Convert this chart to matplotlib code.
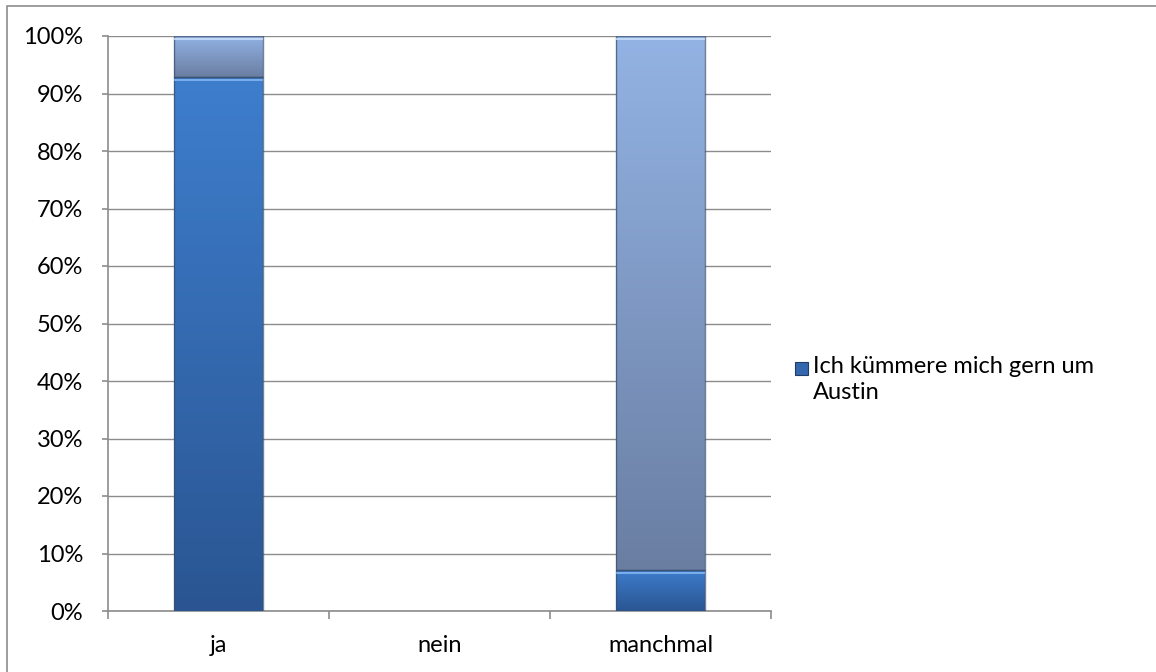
import numpy as np
import matplotlib
matplotlib.use('Agg')
import matplotlib.pyplot as plt
from matplotlib.colors import LinearSegmentedColormap
from matplotlib.patches import Rectangle

# data (share of answers per category)
categories = ['ja', 'nein', 'manchmal']
series_main = [92.86, 0.0, 7.14]
series_rest = [7.14, 0.0, 92.86]
legend_label = 'Ich kümmere mich gern um\nAustin'

plt.rcParams['font.family'] = ['Lato', 'DejaVu Sans']
FS = 17

fig = plt.figure(figsize=(11.56, 6.72), dpi=100)
ax = fig.add_axes([108 / 1156, 1 - 611 / 672, (771 - 108) / 1156, (611 - 36) / 672])

x = np.arange(len(categories))
width = 0.4

# gradient colours for each series (bottom -> top)
cmap_main = LinearSegmentedColormap.from_list('main', ['#2a5592', '#3e7ecd'])
cmap_rest = LinearSegmentedColormap.from_list('rest', ['#6a7ea2', '#93b3e4'])

bars_main = ax.bar(x, series_main, width, color='#3a70b8', edgecolor='none', zorder=3,
                   label=legend_label)
bars_rest = ax.bar(x, series_rest, width, bottom=series_main, color='#8aa6d4',
                   edgecolor='none', zorder=3)

grad = np.linspace(0, 1, 256).reshape(-1, 1)
for bars, cmap, hi in [(bars_main, cmap_main, '#7fb2f0'), (bars_rest, cmap_rest, '#c6dcf8')]:
    for b in bars:
        if b.get_height() <= 0:
            continue
        x0, y0 = b.get_x(), b.get_y()
        w, h = b.get_width(), b.get_height()
        im = ax.imshow(grad, cmap=cmap, aspect='auto', origin='lower',
                       extent=[x0, x0 + w, y0, y0 + h], zorder=4)
        im.set_clip_path(b)
        # darker outline and a light top edge for a bevel look
        ax.add_patch(Rectangle((x0, y0), w, h, fill=False, edgecolor='#3a4d6a',
                               linewidth=1.0, alpha=0.7, zorder=5))
        ax.plot([x0 + 0.005, x0 + w - 0.005], [y0 + h - 0.5, y0 + h - 0.5], color=hi,
                linewidth=1.3, zorder=6)

ax.set_xlim(-0.5, 2.5)
ax.set_ylim(0, 100)

ax.set_yticks(np.arange(0, 101, 10))
ax.set_yticklabels(['{}%'.format(v) for v in range(0, 101, 10)])
ax.grid(axis='y', color='#8c8c8c', linewidth=1.0, zorder=0)
ax.set_axisbelow(True)

# category boundaries get the ticks, labels sit in the middle
ax.set_xticks([-0.5, 0.5, 1.5, 2.5])
ax.set_xticklabels([])
ax.set_xticks(x, minor=True)
ax.set_xticklabels(categories, minor=True)
ax.tick_params(axis='x', which='major', length=6, color='#8c8c8c', width=1.2)
ax.tick_params(axis='x', which='minor', length=0, pad=17, labelsize=FS)
ax.tick_params(axis='y', length=4, color='#8c8c8c', width=1.2, pad=14, labelsize=FS)

for s in ['top', 'right']:
    ax.spines[s].set_visible(False)
for s in ['left', 'bottom']:
    ax.spines[s].set_color('#8c8c8c')
    ax.spines[s].set_linewidth(1.2)

# legend: one entry, marker next to the first text line
fig.patches.append(Rectangle((795 / 1156, 1 - 375 / 672), 13 / 1156, 13 / 672,
                             facecolor='#3467ad', edgecolor='#1f3d66', linewidth=0.8,
                             transform=fig.transFigure, figure=fig))
fig.text(813 / 1156, 1 - 356 / 672, legend_label, fontsize=FS, va='top', ha='left',
         linespacing=1.3)

# outer chart frame
fig.patches.append(Rectangle((7 / 1156, -0.05), 1.2, 1 - 6 / 672 + 0.05, fill=False,
                             edgecolor='#8c8c8c', linewidth=1.2,
                             transform=fig.transFigure, figure=fig))

fig.savefig('out.png', dpi=100)
